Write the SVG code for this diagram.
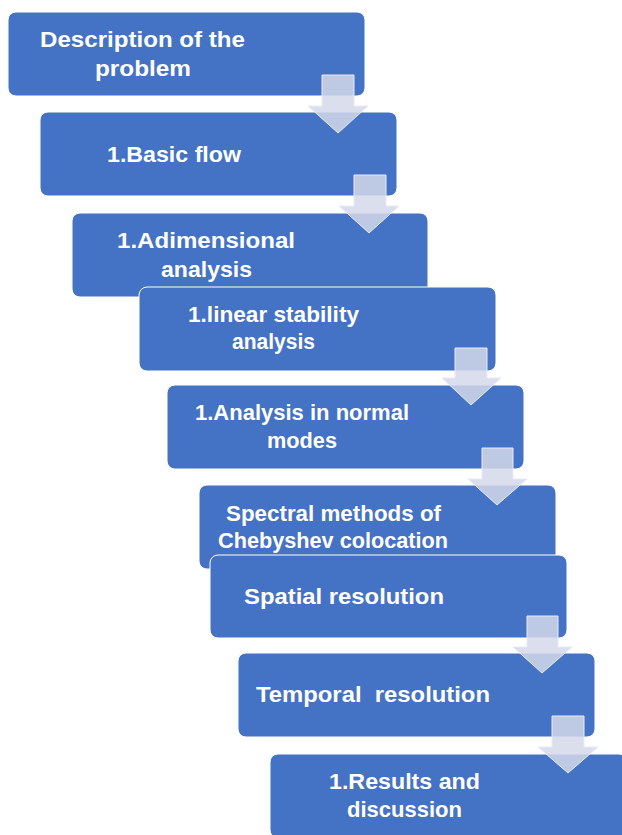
<svg xmlns="http://www.w3.org/2000/svg" width="622" height="835" viewBox="0 0 622 835">
<style>
.box{fill:#4472C4;stroke:#ffffff;stroke-width:1}
.t{font-family:"Liberation Sans",Arial,sans-serif;font-weight:bold;font-size:22px;fill:#ffffff}
.arr{fill:#d3d8ea;fill-opacity:0.85;stroke:#e8ebf5;stroke-width:1}
</style>
<rect width="622" height="835" fill="#ffffff"/>
<g id="n1"><rect class="box" x="8" y="12" width="357" height="84" rx="8"/>
<text class="t" x="40" y="47" textLength="205" lengthAdjust="spacingAndGlyphs">Description of the</text>
<text class="t" x="95" y="76" textLength="96" lengthAdjust="spacingAndGlyphs">problem</text></g>
<g id="n2"><rect class="box" x="40" y="112" width="357" height="84" rx="8"/>
<text class="t" x="107" y="162" textLength="134" lengthAdjust="spacingAndGlyphs">1.Basic flow</text></g>
<g id="n3"><rect class="box" x="72" y="213" width="356" height="84" rx="8"/>
<text class="t" x="117" y="248" textLength="178" lengthAdjust="spacingAndGlyphs">1.Adimensional</text>
<text class="t" x="161" y="277" textLength="91" lengthAdjust="spacingAndGlyphs">analysis</text></g>
<g id="n4"><rect class="box" x="139" y="287" width="357" height="84" rx="8"/>
<text class="t" x="188" y="322" textLength="171" lengthAdjust="spacingAndGlyphs">1.linear stability</text>
<text class="t" x="232" y="349" textLength="83" lengthAdjust="spacingAndGlyphs">analysis</text></g>
<g id="n5"><rect class="box" x="167" y="385" width="357" height="84" rx="8"/>
<text class="t" x="195" y="420" textLength="214" lengthAdjust="spacingAndGlyphs">1.Analysis in normal</text>
<text class="t" x="267" y="448" textLength="70" lengthAdjust="spacingAndGlyphs">modes</text></g>
<g id="n6"><rect class="box" x="199" y="485" width="357" height="84" rx="8"/>
<text class="t" x="226" y="521" textLength="215" lengthAdjust="spacingAndGlyphs">Spectral methods of</text>
<text class="t" x="218" y="548" textLength="230" lengthAdjust="spacingAndGlyphs">Chebyshev colocation</text></g>
<g id="n7"><rect class="box" x="210" y="555" width="357" height="83" rx="8"/>
<text class="t" x="244" y="604" textLength="200" lengthAdjust="spacingAndGlyphs">Spatial resolution</text></g>
<g id="n8"><rect class="box" x="238" y="653" width="357" height="84" rx="8"/>
<text class="t" x="256" y="702" textLength="234" lengthAdjust="spacingAndGlyphs" xml:space="preserve">Temporal  resolution</text></g>
<g id="n9"><rect class="box" x="270" y="754" width="357" height="84" rx="8"/>
<text class="t" x="329" y="789" textLength="151" lengthAdjust="spacingAndGlyphs">1.Results and</text>
<text class="t" x="347" y="817" textLength="115" lengthAdjust="spacingAndGlyphs">discussion</text></g>
<g id="connectors">
<polygon class="arr" points="322,75 354,75 354,106 368,106 338,133 308,106 322,106"/>
<polygon class="arr" points="354,175 386,175 386,206 399,206 369,233 339,206 354,206"/>
<polygon class="arr" points="455,348 487,348 487,378 501,378 471,405 442,378 455,378"/>
<polygon class="arr" points="482,448 513,448 513,479 527,479 497,505 468,479 482,479"/>
<polygon class="arr" points="527,616 558,616 558,647 572,647 542,673 513,647 527,647"/>
<polygon class="arr" points="552,716 584,716 584,747 598,747 568,773 538,747 552,747"/>
</g>
</svg>
